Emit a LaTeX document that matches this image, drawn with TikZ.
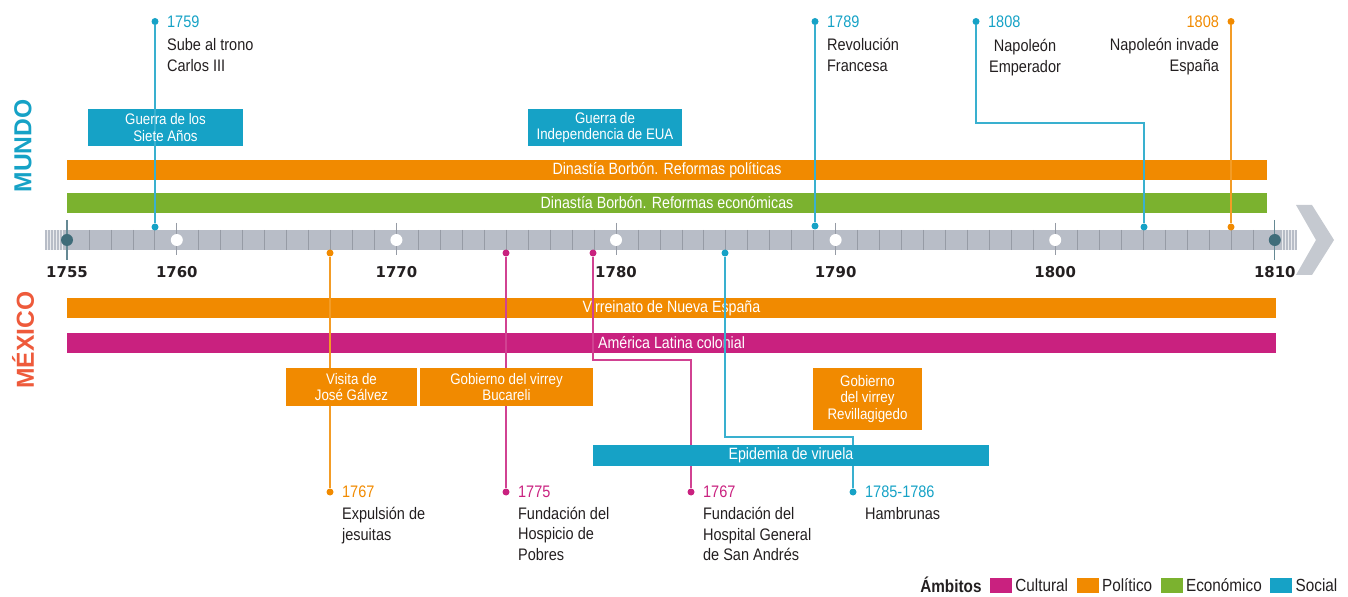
\documentclass[tikz,border=0pt]{standalone}
\usepackage{fontspec}
\setmainfont{Liberation Sans}[FakeStretch=0.87]
\newfontfamily\yearfont{DejaVu Sans}
\newfontfamily\headfont{Liberation Sans}
\usetikzlibrary{positioning}

\definecolor{social}{HTML}{16A2C6}
\definecolor{politico}{HTML}{F18A00}
\definecolor{economico}{HTML}{7BB22F}
\definecolor{cultural}{HTML}{C9217F}
\definecolor{mexico}{HTML}{EE5A3B}
\definecolor{axisgray}{HTML}{B8BDC7}
\definecolor{tickgray}{HTML}{969BA5}
\definecolor{enddot}{HTML}{3F6C79}
\definecolor{chevron}{HTML}{C5C9D0}
\definecolor{textdark}{HTML}{231F20}

\newcommand{\pxl}{0.02cm}
\newcommand{\evsize}{\fontsize{9.5}{11.6}\selectfont}
\newcommand{\barsize}{\fontsize{9.3}{10}\selectfont}
\newcommand{\boxsize}{\fontsize{8.7}{9.6}\selectfont}
\newcommand{\legsize}{\fontsize{10}{11}\selectfont}

\begin{document}
\begin{tikzpicture}[x=0.02cm, y=-0.02cm,
    declare function={yx(\y)=67+(\y-1755)*21.96;},
    bar/.style={fill=#1, text=white, inner sep=0pt, minimum height=20*\pxl, font=\barsize},
    box/.style={fill=#1, text=white, inner sep=0pt, align=center, font=\boxsize},
    boxtext/.style={text=white, inner sep=0pt, align=center, font=\boxsize},
    evline/.style={draw=#1!85, line width=1pt},
    evdot/.style={circle, fill=#1, inner sep=0pt, minimum size=7*\pxl},
    yrtxt/.style={text=#1, inner sep=0pt, font=\evsize},
    desc/.style={text=textdark, inner sep=0pt, font=\evsize, align=left},
    axisyear/.style={inner sep=0pt, text=textdark, font=\yearfont\bfseries\fontsize{8.5}{10}\selectfont},
    legbox/.style={fill=#1, minimum width=22*\pxl, minimum height=15*\pxl, inner sep=0pt},
    legtext/.style={inner sep=0pt, text=textdark, font=\legsize}]
  \useasboundingbox (0,0) rectangle (1348,597);

  % Side titles
  \node[rotate=90, text=social, font=\headfont\bfseries\fontsize{14}{14}\selectfont] (mundo) at (23,146) {MUNDO};
  \node[rotate=90, text=mexico, font=\headfont\bfseries\fontsize{14}{14}\selectfont] (mexico) at (23,340) {MÉXICO};

  % Mundo: boxes and bars
  \node[box=social, minimum width=155*\pxl, minimum height=37*\pxl] (guerra7) at (165.5,127.5) {};
  \node[box=social, minimum width=154*\pxl, minimum height=37*\pxl] (guerraeua) at (605,127.5) {Guerra de\\Independencia de EUA};
  \node[bar=politico, minimum width=1200*\pxl] (borbpol) at (667,170) {Dinastía Borbón. Reformas políticas};
  \node[bar=economico, minimum width=1200*\pxl] (borbeco) at (667,203) {Dinastía Borbón. Reformas económicas};

  % Mexico: bars
  \node[bar=politico, minimum width=1209*\pxl] (virreinato) at (671.5,308) {Virreinato de Nueva España};
  \node[bar=cultural, minimum width=1209*\pxl] (colonial) at (671.5,343) {América Latina colonial};

  % Axis band
  \fill[axisgray] (45,230) rectangle (1297,250);
  \foreach \y in {1755,...,1810}
    \draw[tickgray, line width=0.4pt] ({yx(\y)},230) -- ({yx(\y)},250);
  \foreach \x in {47,50,...,62}
    \draw[white!70!axisgray, line width=0.5pt] (\x,230) -- (\x,250);
  \foreach \x in {1282,1285,...,1296}
    \draw[white!70!axisgray, line width=0.5pt] (\x,230) -- (\x,250);
  \fill[chevron] (1296,205) -- (1312,205) -- (1334,240) -- (1312,275) -- (1296,275) -- (1316,240) -- cycle;

  % Decade marks
  \foreach \y in {1760,1770,...,1800} {
    \draw[tickgray, line width=0.5pt] ({yx(\y)},223) -- ({yx(\y)},255);
    \node[circle, fill=white, inner sep=0pt, minimum size=12*\pxl] (dec\y) at ({yx(\y)},240) {};
  }
  \foreach \y in {1755,1810} {
    \draw[enddot!80, line width=0.6pt] ({yx(\y)},220) -- ({yx(\y)},260);
    \node[circle, fill=enddot, inner sep=0pt, minimum size=12*\pxl] (dec\y) at ({yx(\y)},240) {};
  }
  \foreach \y in {1755,1760,1770,1780,1790,1800,1810}
    \node[axisyear] (ax\y) at ({yx(\y)},272) {\y};

  % Mundo: events
  \node[evdot=social] (t59) at (155,21.5) {};
  \node[evdot=social] (b59) at (155,227) {};
  \draw[evline=social] (t59) -- (b59);
  \node[evdot=social] (t89) at (815,21.5) {};
  \node[evdot=social] (b89) at (815,226) {};
  \draw[evline=social] (t89) -- (b89);
  \node[evdot=social] (t04) at (976,21.5) {};
  \node[evdot=social] (b04) at (1144,227) {};
  \draw[evline=social] (t04) -- ++(0,101.5) -| (b04);
  \node[evdot=politico] (t08) at (1231,21.5) {};
  \node[evdot=politico] (b08) at (1231,227) {};
  \draw[evline=politico] (t08) -- (b08);
  \node[boxtext] (guerra7t) at (guerra7) {Guerra de los\\Siete Años};

  % Mexico: events
  \node[evdot=politico] (t67) at (330,253) {};
  \node[evdot=politico] (b67) at (330,492) {};
  \draw[evline=politico] (t67) -- (b67);
  \node[evdot=cultural] (t75) at (506,253) {};
  \node[evdot=cultural] (b75) at (506,492) {};
  \draw[evline=cultural] (t75) -- (b75);
  \node[evdot=cultural] (tsa) at (593,253) {};
  \node[evdot=cultural] (bsa) at (691,492) {};
  \draw[evline=cultural] (tsa) -- ++(0,107) -| (bsa);
  \node[evdot=social] (t85) at (725,253) {};
  \node[evdot=social] (b85) at (853,492) {};
  \draw[evline=social] (t85) -- ++(0,184) -| (b85);

  % Mexico: boxes
  \node[box=politico, minimum width=131*\pxl, minimum height=38*\pxl] (galvez) at (351.5,387) {Visita de\\José Gálvez};
  \node[box=politico, minimum width=173*\pxl, minimum height=38*\pxl] (bucareli) at (506.5,387) {Gobierno del virrey\\Bucareli};
  \node[box=politico, minimum width=109*\pxl, minimum height=62*\pxl] (revilla) at (867.5,399) {Gobierno\\del virrey\\Revillagigedo};
  \node[bar=social, minimum width=396*\pxl, minimum height=21*\pxl] (viruela) at (791,455.5) {Epidemia de viruela};

  % Labels, top
  \node[yrtxt=social, right=4.5pt of t59] (y59) {1759};
  \node[desc, below=6pt of y59.south west, anchor=north west] (d59) {Sube al trono\\Carlos III};
  \node[yrtxt=social, right=4.5pt of t89] (y89) {1789};
  \node[desc, below=6pt of y89.south west, anchor=north west] (d89) {Revolución\\Francesa};
  \node[yrtxt=social, right=4.5pt of t04] (y04) {1808};
  \node[desc, align=center, anchor=north] (d04) at (1025,39) {Napoleón\\Emperador};
  \node[yrtxt=politico, left=4.5pt of t08] (y08) {1808};
  \node[desc, align=right, below=6pt of y08.south east, anchor=north east] (d08) {Napoleón invade\\España};

  % Labels, bottom
  \node[yrtxt=politico, right=4.5pt of b67] (y67) {1767};
  \node[desc, below=5pt of y67.south west, anchor=north west] (d67) {Expulsión de\\jesuitas};
  \node[yrtxt=cultural, right=4.5pt of b75] (y75) {1775};
  \node[desc, below=5pt of y75.south west, anchor=north west] (d75) {Fundación del\\Hospicio de\\Pobres};
  \node[yrtxt=cultural, right=4.5pt of bsa] (ysa) {1767};
  \node[desc, below=5pt of ysa.south west, anchor=north west] (dsa) {Fundación del\\Hospital General\\de San Andrés};
  \node[yrtxt=social, right=4.5pt of b85] (y85) {1785-1786};
  \node[desc, below=5pt of y85.south west, anchor=north west] (d85) {Hambrunas};

  % Legend
  \node[legtext, font=\legsize\bfseries, anchor=west] (amb) at (920,585) {Ámbitos};
  \node[legbox=cultural, right=4.5pt of amb] (lcul) {};
  \node[legtext, right=1.5pt of lcul] (tcul) {Cultural};
  \node[legbox=politico, right=4.5pt of tcul] (lpol) {};
  \node[legtext, right=1.5pt of lpol] (tpol) {Político};
  \node[legbox=economico, right=4.5pt of tpol] (leco) {};
  \node[legtext, right=1.5pt of leco] (teco) {Económico};
  \node[legbox=social, right=4.5pt of teco] (lsoc) {};
  \node[legtext, right=1.5pt of lsoc] (tsoc) {Social};
\end{tikzpicture}
\end{document}
